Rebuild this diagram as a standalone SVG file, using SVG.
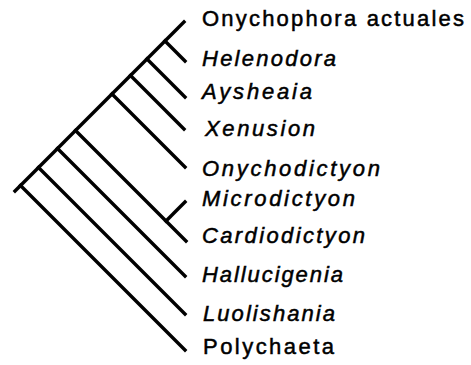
<svg xmlns="http://www.w3.org/2000/svg" width="471" height="365" viewBox="0 0 471 365">
<style>
.e{stroke:#000;stroke-width:3.4;fill:none;stroke-linecap:square}
.t{font-family:"Liberation Sans",Arial,sans-serif;font-size:22px;fill:#000;stroke:#000;stroke-width:0.5}
.i{font-style:italic}
</style>
<rect width="471" height="365" fill="#fff"/>
<g id="connectors">
<line class="e" x1="15" y1="191" x2="184" y2="22"/>
<line class="e" x1="165" y1="41" x2="185" y2="61"/>
<line class="e" x1="147" y1="59" x2="185" y2="97"/>
<line class="e" x1="130.5" y1="75.5" x2="184" y2="129"/>
<line class="e" x1="112" y1="94" x2="185" y2="167"/>
<line class="e" x1="75.5" y1="130.5" x2="186" y2="241"/>
<line class="e" x1="166" y1="221" x2="185" y2="202"/>
<line class="e" x1="57.5" y1="148.5" x2="185" y2="276"/>
<line class="e" x1="38.5" y1="167.5" x2="185" y2="314"/>
<line class="e" x1="20.5" y1="185.5" x2="185" y2="350"/>
</g>
<g id="onychophora"><text class="t" x="202" y="26" textLength="262" lengthAdjust="spacing">Onychophora actuales</text></g>
<g id="helenodora"><text class="t i" x="202" y="66" textLength="134" lengthAdjust="spacing">Helenodora</text></g>
<g id="aysheaia"><text class="t i" x="202" y="99" textLength="110" lengthAdjust="spacing">Aysheaia</text></g>
<g id="xenusion"><text class="t i" x="205" y="136" textLength="110" lengthAdjust="spacing">Xenusion</text></g>
<g id="onychodictyon"><text class="t i" x="202" y="176" textLength="178" lengthAdjust="spacing">Onychodictyon</text></g>
<g id="microdictyon"><text class="t i" x="202" y="206" textLength="153" lengthAdjust="spacing">Microdictyon</text></g>
<g id="cardiodictyon"><text class="t i" x="202" y="243" textLength="163" lengthAdjust="spacing">Cardiodictyon</text></g>
<g id="hallucigenia"><text class="t i" x="202" y="282" textLength="141" lengthAdjust="spacing">Hallucigenia</text></g>
<g id="luolishania"><text class="t i" x="203" y="321" textLength="132" lengthAdjust="spacing">Luolishania</text></g>
<g id="polychaeta"><text class="t" x="203" y="354" textLength="131" lengthAdjust="spacing">Polychaeta</text></g>
</svg>
